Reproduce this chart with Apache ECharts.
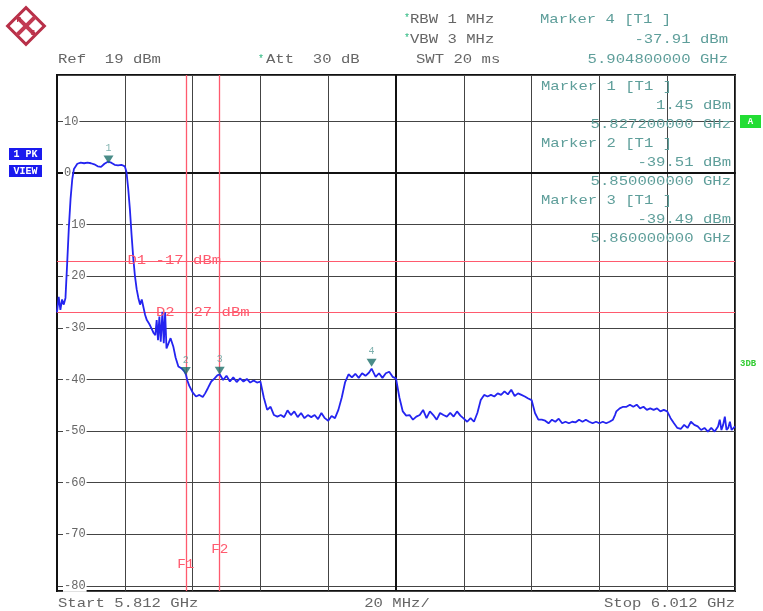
<!DOCTYPE html>
<html><head><meta charset="utf-8">
<script src="https://cdn.jsdelivr.net/npm/echarts@6/dist/echarts.min.js"></script>
<style>html,body{margin:0;padding:0;background:#fff}#c{width:763px;height:611px}</style>
</head><body><div id="c"></div>
<script>
// ---- sweep settings ----
const START_GHZ = 5.812, STOP_GHZ = 6.012, SPAN_MHZ = 200, DIV_MHZ = 20;
const REF_DBM = 19, BOTTOM_DBM = -81;

// ---- trace (offset from start in MHz, level in dBm) ----
const traceOffsetMHz = [
  0,0.5,1,1.5,2,2.5,3,3.5,4,4.5,5,6,7,8,9,10,11,12,13,14,15,16,17,18,19,20,20.5,21,21.5,22,22.5,23,23.5,24,24.5,25,25.5,26,26.5,27,27.5,28,28.5,29,29.4,29.8,30.2,30.6,31.1,31.5,31.9,32.3,32.8,33.5,34.3,35,35.8,36.8,37.5,38,38.5,39,40,41,42,43,43.7,44.5,45.5,46.5,47.3,
  48,49,50,51,52,53,54,55,56,57,58,59,60,61,62,63,64,65,66,67,68,69,70,71,72,73,74,75,76,77,78,79,80,81,82,83,84,85,86,87,88,89,90,91,92,92.8,94,95,96,97,98,99,100,
  101,102,103,104,105,106,107,108,109,110,111,112,113,114,115,116,117,118,119,120,121,122,123,124,125,126,127,128,129,130,131,132,133,134,135,136,137,138,139,140,
  141,142,143,144,145,146,147,148,149,150,151,152,153,154,155,156,157,158,159,160,161,162,163,164,164.6,165,166,167,168,169,170,171,172,173,174,175,176,177,178,179,180,
  181,182,183,184,185,186,187,188,189,190,191,192,193,194,195,195.5,196,196.5,197,197.5,198,198.5,199,200
];
const traceLevelDbm = [
  -27.0,-24.0,-26.5,-24.5,-25.5,-24.2,-17.5,-10.5,-5.0,-1.2,0.8,1.8,2.0,1.9,2.0,1.9,1.7,1.3,1.2,1.8,2.2,2.0,1.6,1.5,1.6,1.3,0.2,-3.0,-7.0,-12.0,-16.5,-20.0,-22.5,-24.2,-25.5,-24.5,-26.0,-27.5,-28.5,-29.0,-29.6,-30.3,-31.0,-31.4,-28.5,-32.4,-27.8,-32.7,-26.9,-33.0,-27.0,-34.0,-34.3,-32.0,-33.6,-35.8,-37.5,-37.9,-38.4,-39.0,-40.3,-41.2,-42.5,-43.3,-43.0,-43.4,-42.7,-41.7,-40.4,-39.8,-39.2,
  -39.0,-40.1,-39.3,-40.4,-39.6,-40.5,-39.8,-40.4,-39.9,-40.6,-40.2,-40.6,-40.4,-43.5,-45.9,-45.3,-46.9,-47.2,-46.9,-47.3,-46.0,-46.9,-46.2,-47.3,-46.5,-47.5,-46.9,-47.3,-46.9,-47.7,-46.5,-47.5,-48.0,-47.1,-47.5,-45.9,-43.5,-40.5,-39.0,-39.6,-38.9,-39.7,-38.8,-39.3,-38.7,-37.91,-39.5,-38.8,-39.7,-38.8,-38.5,-39.5,-39.8,
  -43.5,-46.2,-47.0,-46.9,-47.8,-47.2,-46.9,-45.9,-47.5,-46.2,-46.9,-47.8,-46.5,-46.9,-47.2,-46.5,-47.2,-46.2,-47.0,-47.6,-48.2,-47.5,-48.2,-46.5,-44.0,-43.0,-43.3,-43.0,-43.3,-42.7,-43.0,-42.3,-42.9,-42.0,-43.2,-42.7,-43.0,-43.3,-43.7,-44.0,
  -46.5,-47.8,-47.8,-48.0,-48.5,-47.8,-48.2,-47.6,-48.5,-48.2,-48.5,-48.2,-48.3,-47.8,-48.2,-47.8,-48.2,-48.5,-48.2,-48.5,-48.2,-48.5,-48.2,-47.8,-46.9,-46.2,-45.6,-45.3,-45.3,-44.9,-45.3,-44.9,-45.6,-45.3,-45.9,-45.6,-45.9,-45.6,-46.2,-45.9,-46.2,
  -47.5,-48.5,-49.4,-49.6,-48.8,-49.4,-48.2,-48.8,-49.1,-49.8,-49.4,-50.1,-49.4,-50.1,-49.1,-47.8,-49.8,-48.8,-47.2,-49.8,-49.4,-48.2,-49.8,-49.1
];

// ---- markers ----
const markerIds = ['1', '2', '3', '4'];
const markerFreqGHz = [5.8272, 5.850, 5.860, 5.9048];
const markerLevelDbm = [1.45, -39.51, -39.49, -37.91];

// ---- display / frequency lines ----
const displayLineNames = ['D1', 'D2'];
const displayLineDbm = [-17, -27];
const freqLineNames = ['F1', 'F2'];
const freqLineGHz = [5.850, 5.860];

// ---- header settings ----
const refText = 'Ref  19 dBm';
const attText = 'Att  30 dB';
const rbwText = 'RBW 1 MHz';
const vbwText = 'VBW 3 MHz';
const swtText = 'SWT 20 ms';

const toOff = g => Math.round((g - START_GHZ) * 1e6) / 1000;

const chart = echarts.init(document.getElementById('c'), null, {renderer: 'canvas'});
const MONO = '"Liberation Mono", "DejaVu Sans Mono", monospace';
const RED = '#ff5a6e';

const option = {
  animation: false,
  backgroundColor: '#fff',
  grid: {left: 57, top: 75, right: 28, bottom: 20, show: true, borderColor: '#111', borderWidth: 2, backgroundColor: 'transparent'},
  xAxis: {
    type: 'value', min: 0, max: SPAN_MHZ, interval: DIV_MHZ,
    axisLabel: {show: false}, axisTick: {show: false},
    axisLine: {show: true, lineStyle: {color: '#111', width: 2}},
    splitLine: {show: true, lineStyle: {color: '#444', width: 1}}
  },
  yAxis: {
    type: 'value', min: BOTTOM_DBM, max: REF_DBM, splitNumber: 10,
    axisTick: {show: false},
    axisLine: {show: true, lineStyle: {color: '#111', width: 2}},
    splitLine: {show: true, lineStyle: {color: '#444', width: 1}},
    axisLabel: {inside: true, margin: 6, showMinLabel: false, showMaxLabel: false,
      color: '#666', fontFamily: MONO, fontSize: 12, backgroundColor: '#fff', padding: [0, 1],
      formatter: v => String(v)}
  },
  series: [
    {
      type: 'line', name: 'trace', symbol: 'none', z: 5,
      data: traceOffsetMHz.map((f, i) => [f, traceLevelDbm[i]]),
      lineStyle: {color: '#2424f0', width: 1.8},
      markLine: {
        silent: true, symbol: 'none', label: {show: false}, animation: false,
        data: [
          {xAxis: SPAN_MHZ / 2, lineStyle: {color: '#111', width: 2, type: 'solid'}},
          ...displayLineDbm.map(v => ({yAxis: v, lineStyle: {color: RED, width: 1.2, type: 'solid'}})),
          ...freqLineGHz.map(g => ({xAxis: toOff(g), lineStyle: {color: RED, width: 1.3, type: 'solid'}}))
        ]
      }
    },
    {
      type: 'scatter', name: 'markers', z: 6,
      data: markerFreqGHz.map((g, i) => ({value: [toOff(g), markerLevelDbm[i]], name: markerIds[i]})),
      symbol: 'triangle', symbolRotate: 180, symbolSize: [10, 8], symbolOffset: [0, -6],
      itemStyle: {color: '#1d6f6a'},
      label: {show: true, position: 'top', distance: 2, formatter: p => p.name, color: '#5e9e9a', fontFamily: MONO, fontSize: 10}
    }
  ]
};
chart.setOption(option);

function txt(x, y, text, o) {
  o = o || {};
  return {
    type: 'text', x: x, y: y, scaleX: o.sx || 1.2, z: 100, silent: true,
    style: {text: text, fill: o.color || '#666', font: (o.weight || 'normal') + ' ' + (o.size || 13) + 'px ' + MONO,
      align: o.align || 'left', verticalAlign: 'middle'}
  };
}
const px = (x, y) => chart.convertToPixel({gridIndex: 0}, [x, y]);

const TEAL = '#5e9e9a';
const STAR = '#2cb880';
const g = [];
// logo
g.push({type: 'group', x: 26, y: 26, rotation: Math.PI / 4, z: 100, children: [
  {type: 'rect', shape: {x: -13, y: -13, width: 26, height: 26}, style: {fill: '#fff', stroke: '#b83048', lineWidth: 3}},
  {type: 'rect', shape: {x: -13, y: -2, width: 26, height: 4}, style: {fill: '#c23a52'}},
  {type: 'rect', shape: {x: -2, y: -13, width: 4, height: 26}, style: {fill: '#c23a52'}}
]});
g.push({type: 'text', x: 19, y: 20, z: 101, style: {text: 'R', fill: '#b83048', font: 'bold 8px ' + MONO, align: 'center', verticalAlign: 'middle'}});
g.push({type: 'text', x: 33, y: 33, z: 101, style: {text: 'S', fill: '#b83048', font: 'bold 8px ' + MONO, align: 'center', verticalAlign: 'middle'}});

// header
g.push(txt(58, 60, refText));
g.push(txt(258, 59, '*', {color: STAR, size: 10, sx: 1}));
g.push(txt(266, 60, attText));
g.push(txt(404, 18, '*', {color: STAR, size: 10, sx: 1}));
g.push(txt(410, 20, rbwText));
g.push(txt(404, 38, '*', {color: STAR, size: 10, sx: 1}));
g.push(txt(410, 40, vbwText));
g.push(txt(416, 60, swtText));
// marker 4 readout in header
const m4 = 3;
g.push(txt(540, 20, 'Marker ' + markerIds[m4] + ' [T1 ]', {color: TEAL}));
g.push(txt(728, 40, markerLevelDbm[m4].toFixed(2) + ' dBm', {color: TEAL, align: 'right'}));
g.push(txt(728, 60, markerFreqGHz[m4].toFixed(9) + ' GHz', {color: TEAL, align: 'right'}));
// marker 1-3 readouts in the plot
for (let i = 0; i < 3; i++) {
  const y0 = 87 + i * 57;
  g.push(txt(541, y0, 'Marker ' + markerIds[i] + ' [T1 ]', {color: TEAL}));
  g.push(txt(731, y0 + 19, markerLevelDbm[i].toFixed(2) + ' dBm', {color: TEAL, align: 'right'}));
  g.push(txt(731, y0 + 38, markerFreqGHz[i].toFixed(9) + ' GHz', {color: TEAL, align: 'right'}));
}
// side boxes
g.push({type: 'rect', shape: {x: 9, y: 148, width: 33, height: 12}, style: {fill: '#1a1aee'}, z: 100});
g.push({type: 'rect', shape: {x: 9, y: 165, width: 33, height: 12}, style: {fill: '#1a1aee'}, z: 100});
g.push(txt(25.5, 154.5, '1 PK', {color: '#fff', size: 10, weight: 'bold', align: 'center', sx: 1}));
g.push(txt(25.5, 171.5, 'VIEW', {color: '#fff', size: 10, weight: 'bold', align: 'center', sx: 1}));
g.push({type: 'rect', shape: {x: 740, y: 115, width: 21, height: 13}, style: {fill: '#22dd33'}, z: 100});
g.push(txt(750.5, 121.5, 'A', {color: '#fff', size: 9, weight: 'bold', align: 'center', sx: 1}));
g.push(txt(740, 364, '3DB', {color: '#33cc33', size: 9, weight: 'bold', sx: 1}));

// display line labels
const dLabelOff = [20.8, 29.2];
displayLineDbm.forEach((v, i) => {
  const p = px(dLabelOff[i], v);
  g.push(txt(p[0], p[1], displayLineNames[i] + ' ' + v + ' dBm', {color: RED}));
});
// frequency line labels
const fLabelY = [565, 550];
freqLineGHz.forEach((gz, i) => {
  const p = px(toOff(gz), 0);
  g.push(txt(p[0], fLabelY[i], freqLineNames[i], {color: RED, align: 'center', sx: 1.1}));
});
// bottom
g.push(txt(58, 604, 'Start ' + START_GHZ.toFixed(3) + ' GHz'));
const c = px(SPAN_MHZ / 2, 0);
g.push(txt(c[0] + 1, 604, DIV_MHZ + ' MHz/', {align: 'center'}));
g.push(txt(735, 604, 'Stop ' + STOP_GHZ.toFixed(3) + ' GHz', {align: 'right'}));

chart.setOption({graphic: {elements: g}});
</script></body></html>
